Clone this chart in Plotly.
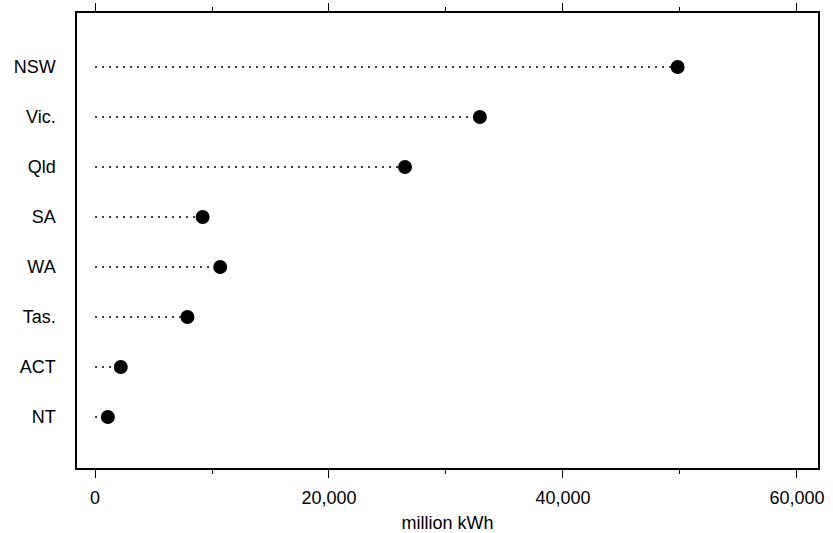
import plotly.graph_objects as go

states = ["NSW", "Vic.", "Qld", "SA", "WA", "Tas.", "ACT", "NT"]
values = [49800, 32900, 26500, 9200, 10700, 7900, 2200, 1100]
x_ticks = [0, 20000, 40000, 60000]
x_tick_labels = ["0", "20,000", "40,000", "60,000"]

fig = go.Figure()
n = len(states)
ypos = [n - 1 - i for i in range(n)]

for s, v, y in zip(states, values, ypos):
    fig.add_trace(go.Scatter(x=[0, v], y=[y, y], mode="lines",
                             line=dict(color="black", width=1.6, dash="2px,5px"),
                             showlegend=False, hoverinfo="skip"))
fig.add_trace(go.Scatter(x=values, y=ypos, mode="markers",
                         marker=dict(color="black", size=14),
                         showlegend=False))

fig.update_layout(
    width=833, height=533,
    margin=dict(l=77, r=15, t=13, b=65, autoexpand=False),
    paper_bgcolor="white", plot_bgcolor="white",
    font=dict(family="Liberation Sans, Arial, sans-serif", color="black", size=18),
    xaxis=dict(range=[-1540, 61800], tickvals=x_ticks, ticktext=x_tick_labels,
               showgrid=False, zeroline=False, showline=True, linecolor="black",
               linewidth=1.5, mirror="allticks", ticks="outside", ticklen=8,
               tickcolor="black", automargin=False, ticklabelstandoff=5,
               minor=dict(dtick=10000, tick0=0, ticks="outside", ticklen=4,
                          tickcolor="black", showgrid=False),
               title=dict(text="million kWh", font=dict(size=18), standoff=14)),
    yaxis=dict(range=[-1.02, n - 1 + 1.08], tickvals=ypos, ticktext=states,
               showgrid=False, zeroline=False, showline=True, linecolor="black",
               linewidth=1.5, mirror=True, ticks="", ticklabelstandoff=16,
               automargin=False),
)

fig.write_html("out.html", config={"displayModeBar": False},
               post_script="document.body.style.margin='0px';")
